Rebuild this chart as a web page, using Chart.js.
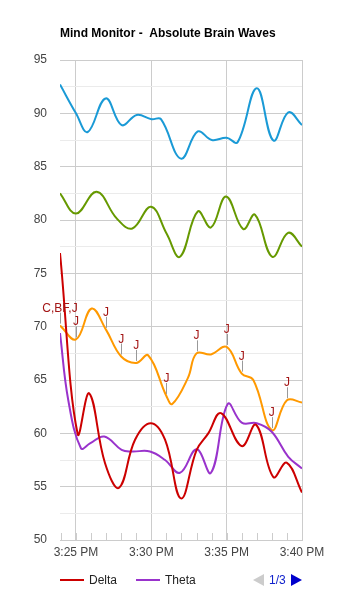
<!DOCTYPE html>
<html>
<head>
  <meta charset="utf-8" />
  <title>Mind Monitor - Absolute Brain Waves</title>
  <script src="https://cdn.jsdelivr.net/npm/chart.js@4/dist/chart.umd.min.js"></script>
  <style>
    html, body { margin: 0; padding: 0; background: #ffffff; }
    #wrap { position: relative; width: 363px; height: 600px; }
    .key { position: absolute; height: 2px; width: 24px; top: 579px; }
    .lbl { position: absolute; top: 573px; font: 12px Arial, "Liberation Sans", sans-serif; line-height: 14px; color: #222222; }
    .tri { position: absolute; top: 574px; width: 0; height: 0; border-top: 6px solid transparent; border-bottom: 6px solid transparent; }
  </style>
</head>
<body>
  <div id="wrap">
    <canvas id="waves" width="363" height="600"></canvas>
    <div class="key" style="left:60px; background:#cc0000"></div>
    <div class="lbl" style="left:89px">Delta</div>
    <div class="key" style="left:136px; background:#9933cc"></div>
    <div class="lbl" style="left:165px">Theta</div>
    <div class="tri" style="left:253px; border-right:11px solid #cccccc"></div>
    <div class="lbl" style="left:269px; color:#1122cc">1/3</div>
    <div class="tri" style="left:291px; border-left:11px solid #0000cc"></div>
  </div>
  <script>
    // times are minutes after 3:00 PM
    var deltaT = [23.94, 25.11, 25.88, 26.93, 27.86, 28.92, 29.96, 30.91, 31.97, 33.01, 33.78, 34.62, 36.0, 36.95, 38.1, 38.98, 40.0];
    var deltaV = [76.9, 59.95, 63.75, 57.2, 54.9, 59.4, 60.95, 59.4, 53.9, 58.45, 60.0, 61.9, 58.8, 60.8, 55.9, 57.25, 54.45];

    var thetaT = [23.94, 24.49, 25.33, 25.93, 26.88, 28.03, 28.7, 29.91, 30.91, 31.9, 33.01, 33.96, 35.07, 36.0, 37.0, 37.99, 39.09, 40.0];
    var thetaV = [69.4, 63.1, 58.6, 59.05, 59.7, 58.45, 58.3, 58.3, 57.5, 56.3, 58.5, 56.3, 62.75, 61.0, 60.95, 60.15, 57.8, 56.7];

    var alphaT = [23.94, 25.0, 25.78, 26.97, 28.03, 29.03, 30.02, 30.64, 31.97, 33.08, 34.01, 35.0, 35.73, 37.0, 38.1, 39.09, 40.0];
    var alphaV = [92.7, 90.0, 88.25, 91.4, 88.9, 89.85, 89.45, 89.45, 85.75, 88.3, 87.5, 87.7, 87.3, 92.35, 87.45, 90.1, 88.9];

    var betaT = [23.94, 25.0, 26.37, 27.7, 28.74, 29.98, 31.02, 31.9, 33.08, 33.96, 34.96, 36.1, 36.88, 38.03, 39.09, 40.0];
    var betaV = [82.5, 80.6, 82.65, 80.15, 79.2, 81.25, 78.7, 76.55, 80.8, 79.3, 82.2, 79.15, 80.5, 76.55, 78.8, 77.5];

    var gammaT = [23.94, 25.0, 26.04, 27.0, 28.0, 29.0, 29.8, 31.0, 31.39, 32.43, 33.0, 33.96, 35.0, 36.0, 36.77, 38.0, 39.0, 40.0];
    var gammaV = [70.1, 68.8, 71.7, 69.7, 67.2, 66.6, 67.3, 63.5, 62.75, 65.2, 67.5, 67.4, 68.1, 65.6, 65.0, 60.3, 63.1, 62.9];

    // markers sitting on the gamma line
    var noteIdx = [0, 1, 3, 4, 5, 7, 10, 12, 13, 15, 16];
    var noteText = ['C,BF,J', 'J', 'J', 'J', 'J', 'J', 'J', 'J', 'J', 'J', 'J'];

    var minuteTicks = [24, 25, 26, 27, 28, 29, 30, 31, 32, 33, 34, 35, 36, 37, 38, 39, 40];

    var FONT = 'Arial, "Liberation Sans", sans-serif';
    Chart.defaults.font.family = FONT;
    Chart.defaults.font.size = 12;
    Chart.defaults.color = '#444444';

    function pts(t, v) {
      return t.map(function(x, i) { return { x: x, y: v[i] }; });
    }

    function series(label, t, v, color) {
      return {
        label: label,
        data: pts(t, v),
        borderColor: color,
        backgroundColor: color,
        borderWidth: 2,
        pointRadius: 0,
        tension: 0.4,
        fill: false
      };
    }

    var extras = {
      id: 'extras',
      beforeDatasetsDraw: function(chart) {
        var ctx = chart.ctx, xs = chart.scales.x, area = chart.chartArea;
        ctx.save();
        ctx.strokeStyle = '#cccccc';
        ctx.lineWidth = 1;
        minuteTicks.forEach(function(m) {
          var px = Math.round(xs.getPixelForValue(m)) + 0.5;
          ctx.beginPath();
          ctx.moveTo(px, area.bottom - 7);
          ctx.lineTo(px, area.bottom);
          ctx.stroke();
        });
        ctx.restore();
      },
      afterDatasetsDraw: function(chart) {
        var ctx = chart.ctx;
        var meta = chart.getDatasetMeta(4);
        ctx.save();
        ctx.font = '12px ' + FONT;
        ctx.textAlign = 'center';
        ctx.textBaseline = 'alphabetic';
        noteIdx.forEach(function(idx, k) {
          var p = meta.data[idx];
          var px = Math.round(p.x) + 0.5;
          ctx.strokeStyle = '#999999';
          ctx.lineWidth = 1;
          ctx.beginPath();
          ctx.moveTo(px, p.y - 2);
          ctx.lineTo(px, p.y - 13);
          ctx.stroke();
          ctx.fillStyle = '#a31515';
          ctx.fillText(noteText[k], p.x, p.y - 14);
        });
        ctx.restore();
      },
      afterDraw: function(chart) {
        var ctx = chart.ctx;
        ctx.save();
        ctx.font = 'bold 12px ' + FONT;
        ctx.fillStyle = '#000000';
        ctx.textAlign = 'left';
        ctx.textBaseline = 'middle';
        ctx.fillText('Mind Monitor -  Absolute Brain Waves', chart.chartArea.left, 34);
        ctx.restore();
      }
    };

    var chart = new Chart(document.getElementById('waves'), {
      type: 'line',
      data: {
        datasets: [
          series('Delta', deltaT, deltaV, '#cc0000'),
          series('Theta', thetaT, thetaV, '#9933cc'),
          series('Alpha', alphaT, alphaV, '#1a9ad6'),
          series('Beta', betaT, betaV, '#669900'),
          series('Gamma', gammaT, gammaV, '#ff9900')
        ]
      },
      options: {
        responsive: false,
        animation: false,
        layout: { padding: { top: 60, right: 61, left: 0, bottom: 0 } },
        plugins: {
          legend: { display: false },
          tooltip: { enabled: false }
        },
        scales: {
          x: {
            type: 'linear',
            min: 23.94,
            max: 40,
            afterBuildTicks: function(scale) {
              scale.ticks = minuteTicks.map(function(m) { return { value: m }; });
            },
            afterFit: function(scale) { scale.height = 60; },
            ticks: {
              autoSkip: false,
              maxRotation: 0,
              padding: 5,
              color: '#444444',
              callback: function(v) { return v % 5 === 0 ? '3:' + v + ' PM' : ''; }
            },
            grid: {
              drawTicks: false,
              color: function(c) { return c.tick && c.tick.value % 5 === 0 ? '#cccccc' : 'rgba(0,0,0,0)'; }
            },
            border: { display: true, color: '#cccccc' }
          },
          y: {
            min: 50,
            max: 95,
            afterFit: function(scale) { scale.width = 60; },
            ticks: {
              stepSize: 2.5,
              padding: 13,
              color: '#444444',
              callback: function(v) { return v % 5 === 0 ? v : ''; }
            },
            grid: {
              drawTicks: false,
              color: function(c) { return c.tick && c.tick.value % 5 === 0 ? '#cccccc' : '#ebebeb'; }
            },
            border: { display: false }
          }
        }
      },
      plugins: [extras]
    });
  </script>
</body>
</html>
